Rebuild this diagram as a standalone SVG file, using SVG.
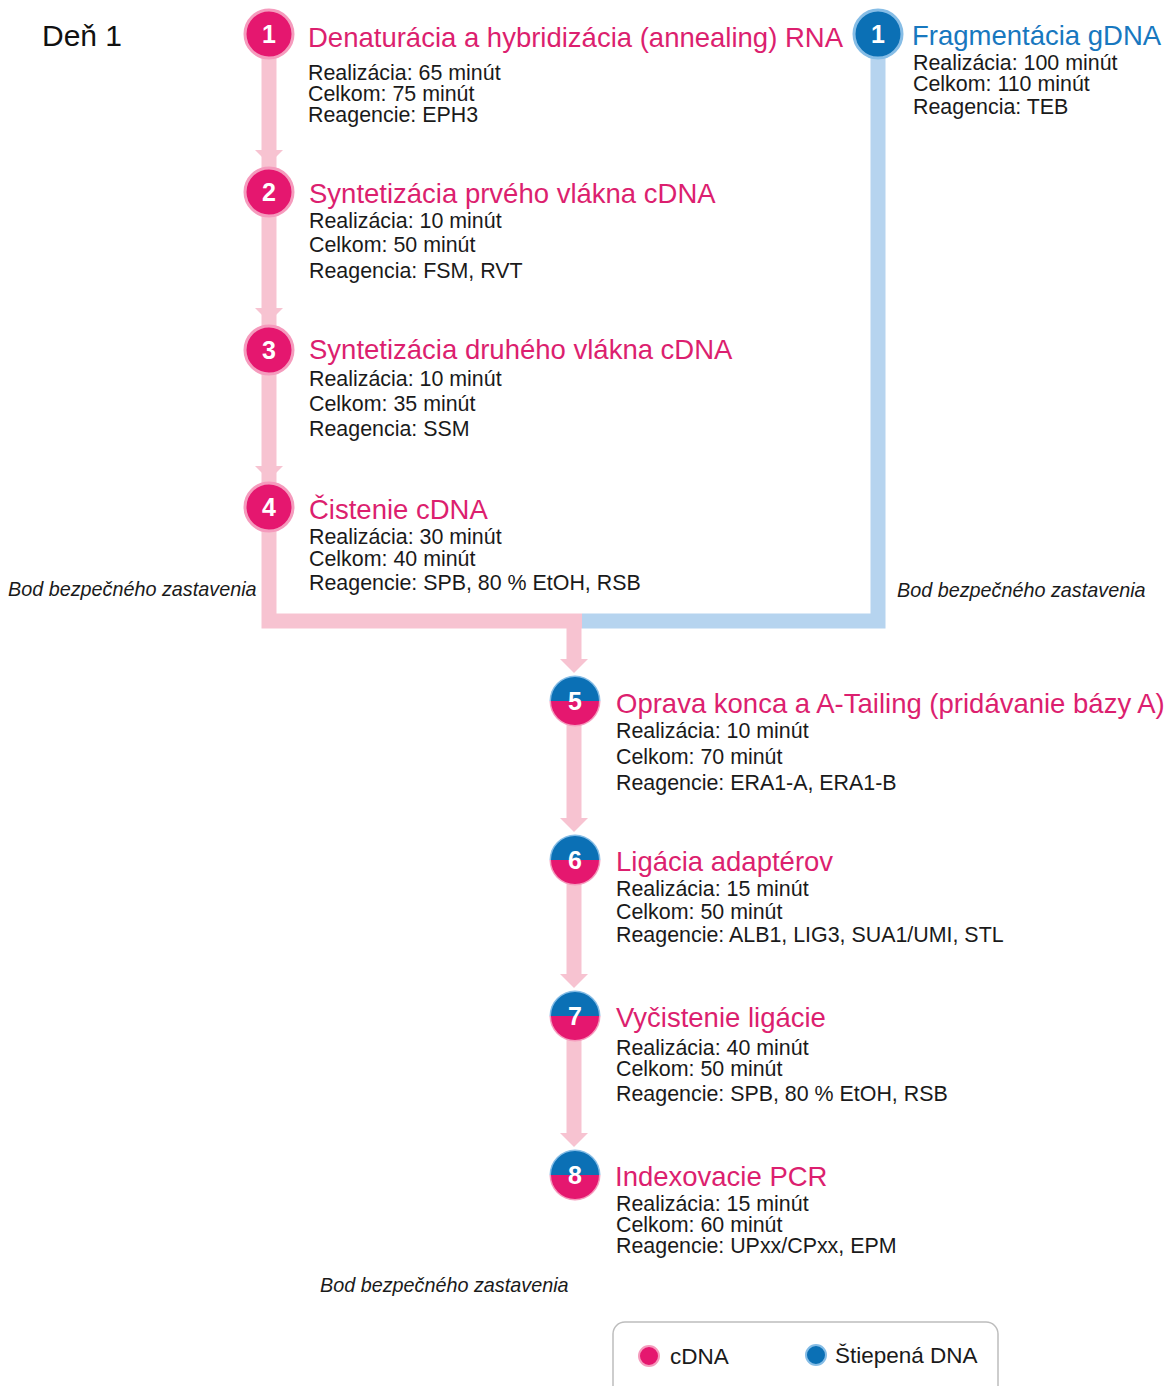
<svg xmlns="http://www.w3.org/2000/svg" width="1167" height="1386" viewBox="0 0 1167 1386">
<defs>
<style>
text{font-family:"Liberation Sans",Arial,sans-serif;}
.t{font-size:27.5px;fill:#dc1f6f;}
.tb{font-size:27.5px;fill:#1878bf;}
.b{font-size:21.4px;fill:#1a1a1a;}
.n{font-size:25px;font-weight:bold;fill:#fff;text-anchor:middle;}
.i{font-size:19.8px;font-style:italic;fill:#1a1a1a;}
.cp{fill:#e5176f;stroke:#f59bbd;stroke-width:3;}
.cb{fill:#0b70b5;stroke:#86bde6;stroke-width:3;}
.lp{stroke:#f7c3d1;stroke-width:15;fill:none;}
.lb{stroke:#b6d4ef;stroke-width:15;fill:none;}
.ah{fill:#f7c3d1;}
.lg{font-size:22.5px;fill:#1a1a1a;}
</style>
<clipPath id="top"><rect x="-30" y="-30" width="60" height="30"/></clipPath>
<clipPath id="bot"><rect x="-30" y="0" width="60" height="30"/></clipPath>
<g id="split">
<circle r="25.5" fill="#86bde6" clip-path="url(#top)"/>
<circle r="25.5" fill="#f59bbd" clip-path="url(#bot)"/>
<circle r="24" fill="#0b70b5" clip-path="url(#top)"/>
<circle r="24" fill="#e5176f" clip-path="url(#bot)"/>
</g>
</defs>
<rect width="1167" height="1386" fill="#fff"/>
<text x="42" y="46" style="font-size:30px;fill:#111">Deň 1</text>

<g id="connectors">
<path class="lb" d="M878 34 V621 H582"/>
<path class="lp" d="M269 34 V621 H582"/>
<path class="lp" d="M574 621 V661"/>
<polygon class="ah" points="255,150 283,150 269,164"/>
<polygon class="ah" points="255,308 283,308 269,322"/>
<polygon class="ah" points="255,466 283,466 269,480"/>
<polygon class="ah" points="560,659 588,659 574,673"/>
<line class="lp" x1="574" y1="701" x2="574" y2="820"/>
<polygon class="ah" points="560,818 588,818 574,832"/>
<line class="lp" x1="574" y1="860" x2="574" y2="976"/>
<polygon class="ah" points="560,974 588,974 574,988"/>
<line class="lp" x1="574" y1="1016" x2="574" y2="1135"/>
<polygon class="ah" points="560,1133 588,1133 574,1147"/>
</g>

<g id="node-c1">
<circle class="cp" cx="269" cy="34" r="24"/>
<text class="n" x="269" y="43">1</text>
<text class="t" x="308" y="47">Denaturácia a hybridizácia (annealing) RNA</text>
<text class="b" x="308" y="80">Realizácia: 65 minút</text>
<text class="b" x="308" y="101">Celkom: 75 minút</text>
<text class="b" x="308" y="122">Reagencie: EPH3</text>
</g>
<g id="node-c2">
<circle class="cp" cx="269" cy="192" r="24"/>
<text class="n" x="269" y="201">2</text>
<text class="t" x="309" y="203">Syntetizácia prvého vlákna cDNA</text>
<text class="b" x="309" y="228">Realizácia: 10 minút</text>
<text class="b" x="309" y="252">Celkom: 50 minút</text>
<text class="b" x="309" y="278">Reagencia: FSM, RVT</text>
</g>
<g id="node-c3">
<circle class="cp" cx="269" cy="350" r="24"/>
<text class="n" x="269" y="359">3</text>
<text class="t" x="309" y="359">Syntetizácia druhého vlákna cDNA</text>
<text class="b" x="309" y="386">Realizácia: 10 minút</text>
<text class="b" x="309" y="411">Celkom: 35 minút</text>
<text class="b" x="309" y="436">Reagencia: SSM</text>
</g>
<g id="node-c4">
<circle class="cp" cx="269" cy="507" r="24"/>
<text class="n" x="269" y="516">4</text>
<text class="t" x="309" y="519">Čistenie cDNA</text>
<text class="b" x="309" y="544">Realizácia: 30 minút</text>
<text class="b" x="309" y="566">Celkom: 40 minút</text>
<text class="b" x="309" y="590">Reagencie: SPB, 80 % EtOH, RSB</text>
</g>
<g id="node-g1">
<circle class="cb" cx="878" cy="34" r="24"/>
<text class="n" x="878" y="43">1</text>
<text class="tb" x="912" y="45">Fragmentácia gDNA</text>
<text class="b" x="913" y="70">Realizácia: 100 minút</text>
<text class="b" x="913" y="91">Celkom: 110 minút</text>
<text class="b" x="913" y="114">Reagencia: TEB</text>
</g>
<text class="i" x="8" y="596">Bod bezpečného zastavenia</text>
<text class="i" x="897" y="597">Bod bezpečného zastavenia</text>

<g id="node-5">
<use href="#split" x="575" y="701"/>
<text class="n" x="575" y="710">5</text>
<text class="t" x="616" y="713">Oprava konca a A-Tailing (pridávanie bázy A)</text>
<text class="b" x="616" y="738">Realizácia: 10 minút</text>
<text class="b" x="616" y="764">Celkom: 70 minút</text>
<text class="b" x="616" y="790">Reagencie: ERA1-A, ERA1-B</text>
</g>
<g id="node-6">
<use href="#split" x="575" y="860"/>
<text class="n" x="575" y="869">6</text>
<text class="t" x="616" y="871">Ligácia adaptérov</text>
<text class="b" x="616" y="896">Realizácia: 15 minút</text>
<text class="b" x="616" y="919">Celkom: 50 minút</text>
<text class="b" x="616" y="942">Reagencie: ALB1, LIG3, SUA1/UMI, STL</text>
</g>
<g id="node-7">
<use href="#split" x="575" y="1016"/>
<text class="n" x="575" y="1025">7</text>
<text class="t" x="616" y="1027">Vyčistenie ligácie</text>
<text class="b" x="616" y="1055">Realizácia: 40 minút</text>
<text class="b" x="616" y="1076">Celkom: 50 minút</text>
<text class="b" x="616" y="1101">Reagencie: SPB, 80 % EtOH, RSB</text>
</g>
<g id="node-8">
<use href="#split" x="575" y="1175"/>
<text class="n" x="575" y="1184">8</text>
<text class="t" x="615" y="1186">Indexovacie PCR</text>
<text class="b" x="616" y="1211">Realizácia: 15 minút</text>
<text class="b" x="616" y="1232">Celkom: 60 minút</text>
<text class="b" x="616" y="1253">Reagencie: UPxx/CPxx, EPM</text>
</g>
<text class="i" x="320" y="1292">Bod bezpečného zastavenia</text>

<g id="legend">
<rect x="613" y="1322" width="385" height="80" rx="12" fill="none" stroke="#bdbdbd" stroke-width="1.5"/>
<circle cx="649" cy="1356" r="10" fill="#e5176f" stroke="#f59bbd" stroke-width="2"/>
<text class="lg" x="670" y="1364">cDNA</text>
<circle cx="816" cy="1355" r="10" fill="#0b70b5" stroke="#86bde6" stroke-width="2"/>
<text class="lg" x="835" y="1363">Štiepená DNA</text>
</g>
</svg>
